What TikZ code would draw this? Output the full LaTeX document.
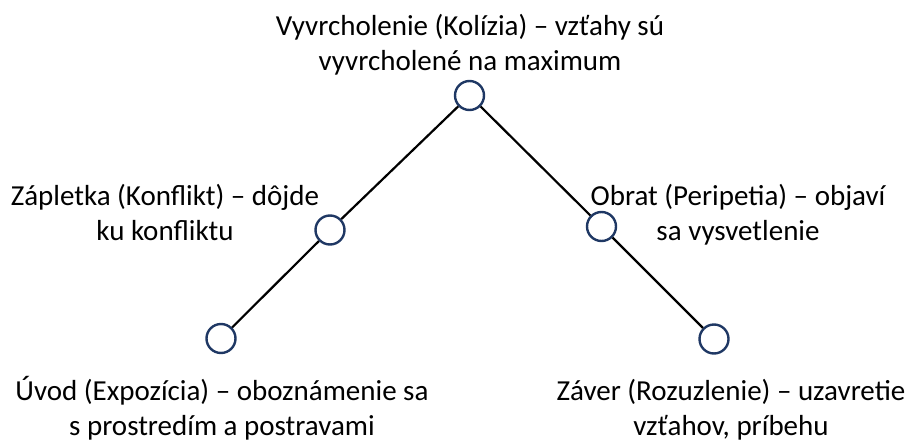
\documentclass[tikz,border=0pt]{standalone}
\usepackage{fontspec}
\setmainfont{Carlito}
\definecolor{navy}{RGB}{31,56,100}
\tikzset{
  dot/.style={circle, draw=navy, line width=2.4pt, fill=white, minimum size=29pt, inner sep=0pt},
  lbl/.style={align=center, inner sep=0pt, anchor=base, font=\fontsize{29}{35}\selectfont},
  link/.style={line width=2.2pt, black}
}
\begin{document}
\begin{tikzpicture}[x=1pt, y=-1pt]
\useasboundingbox (0,0) rectangle (916,442);
\node[dot] (top) at (469.5,95.5) {};
\node[dot] (ml) at (330,230) {};
\node[dot] (mr) at (601.5,226.5) {};
\node[dot] (bl) at (221,338.5) {};
\node[dot] (br) at (714,339) {};
\draw[link] (top) -- (ml) -- (bl);
\draw[link] (top) -- (mr) -- (br);
\node[lbl] (ttop) at (470,70) {Vyvrcholenie (Kolízia) – vzťahy sú\\vyvrcholené na maximum};
\node[lbl] (tml) at (165,240) {Zápletka (Konflikt) – dôjde\\ku konfliktu};
\node[lbl] (tmr) at (738,240) {Obrat (Peripetia) – objaví\\sa vysvetlenie};
\node[lbl] (tbl) at (222,435) {Úvod (Expozícia) – oboznámenie sa\\s prostredím a postravami};
\node[lbl] (tbr) at (731,435) {Záver (Rozuzlenie) – uzavretie\\vzťahov, príbehu};
\end{tikzpicture}
\end{document}
